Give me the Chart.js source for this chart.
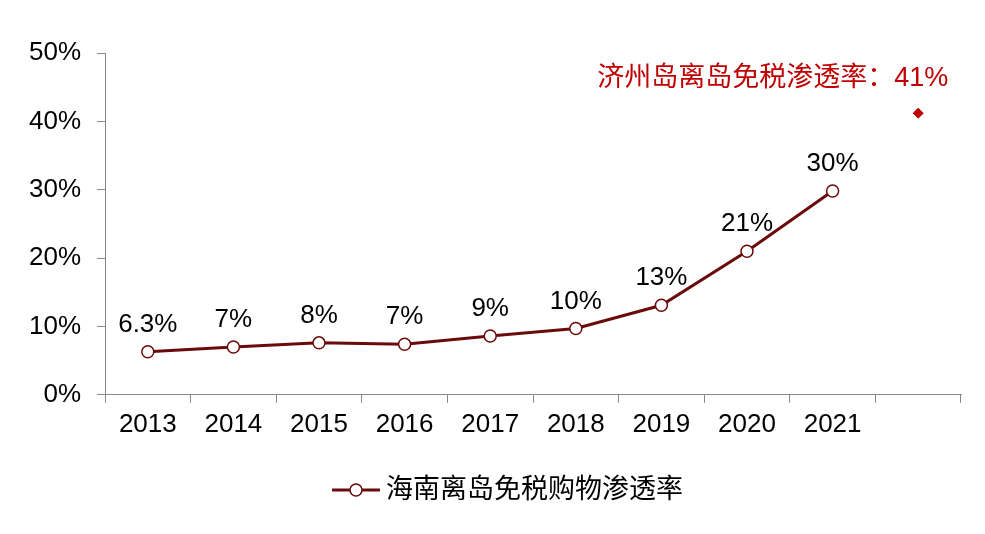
<!DOCTYPE html>
<html><head><meta charset="utf-8">
<script src="https://cdn.jsdelivr.net/npm/chart.js@4"></script>
<style>html,body{margin:0;background:#fff}#w{width:985px;height:534px}</style>
</head><body><div id="w"><canvas id="c"></canvas></div>
<script>
const categories=['2013','2014','2015','2016','2017','2018','2019','2020','2021',''];
const hainanValues=[6.3,7.0,7.6,7.4,8.6,9.7,13.1,21.0,29.8,null];
const hainanLabels=['6.3%','7%','8%','7%','9%','10%','13%','21%','30%'];
const jejuValues=[null,null,null,null,null,null,null,null,null,41.2];
const jejuText='济州岛离岛免税渗透率：41%';
const legendText='海南离岛免税购物渗透率';
const F='"Liberation Sans", Arial, "Noto Sans CJK SC", sans-serif';
const labelPlugin={id:'lbl',afterDatasetsDraw(ch){
 const ctx=ch.ctx;const m=ch.getDatasetMeta(0);
 ctx.save();ctx.font='26px '+F;ctx.fillStyle='#000';ctx.textAlign='center';ctx.textBaseline='bottom';
 hainanLabels.forEach((t,i)=>{const p=m.data[i];ctx.fillText(t,p.x,p.y-14);});
 const m2=ch.getDatasetMeta(1);const p=m2.data[9];
 ctx.fillStyle='#C00000';ctx.textAlign='right';ctx.textBaseline='middle';
 ctx.font='27px '+F;
 ctx.fillText(jejuText,p.x+30,ch.scales.y.getPixelForValue(46.3));
 // legend
 const cx=ch.width/2+18, y=490;
 ctx.font='27px '+F;ctx.fillStyle='#000';ctx.textAlign='left';
 const tw=ctx.measureText(legendText).width;
 const x0=cx-(tw+60)/2;
 ctx.strokeStyle='#6B0A0A';ctx.lineWidth=3;ctx.beginPath();ctx.moveTo(x0,y);ctx.lineTo(x0+48,y);ctx.stroke();
 ctx.fillStyle='#fff';ctx.lineWidth=1.5;ctx.beginPath();ctx.arc(x0+24,y,6,0,Math.PI*2);ctx.fill();ctx.stroke();
 ctx.fillStyle='#000';ctx.fillText(legendText,x0+54,y+1);
 ctx.restore();}};
new Chart(document.getElementById('c'),{type:'line',
 data:{labels:categories,datasets:[
  {label:legendText,data:hainanValues,borderColor:'#6B0A0A',borderWidth:3,
   pointStyle:'circle',pointRadius:6,pointBackgroundColor:'#fff',pointBorderColor:'#6B0A0A',pointBorderWidth:1.5,tension:0},
  {label:'jeju',data:jejuValues,showLine:false,pointStyle:'rectRot',pointRadius:5,
   pointBackgroundColor:'#C00000',pointBorderColor:'#C00000'}]},
 options:{responsive:true,maintainAspectRatio:false,animation:false,
  layout:{padding:{top:53,right:24,left:10,bottom:88}},
  plugins:{tooltip:{enabled:false},legend:{display:false}},
  scales:{
   x:{offset:true,grid:{display:true,offset:true,drawOnChartArea:false,tickLength:8,color:'#888'},
      border:{color:'#888'},ticks:{font:{size:26,family:F},color:'#000',padding:6}},
   y:{min:0,max:50,grid:{drawOnChartArea:false,tickLength:8,color:'#888'},border:{color:'#888'},
      afterFit(s){s.width=95;},
      ticks:{stepSize:10,callback:v=>v+'%',font:{size:26,family:F},color:'#000',padding:16}}}},
 plugins:[labelPlugin]});
</script></body></html>
